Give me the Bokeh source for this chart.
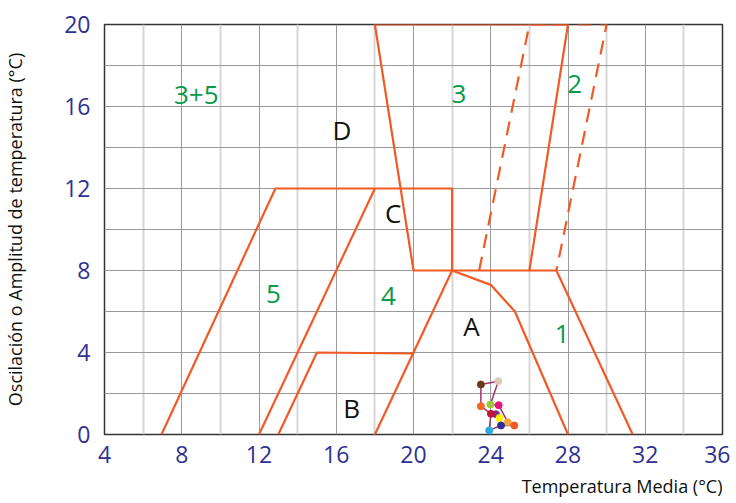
from bokeh.plotting import figure
from bokeh.models import Range1d, FixedTicker, Title, ColumnDataSource
from bokeh.core.properties import value
from bokeh.embed import file_html
from bokeh.resources import INLINE

FONT = "Open Sans"
ORANGE = "#F15A24"
GREEN = "#0A9A48"
BLUE = "#2E3192"

# ---- data -----------------------------------------------------------
x_ticks = [4, 8, 12, 16, 20, 24, 28, 32, 36]
y_ticks = [0, 4, 8, 12, 16, 20]
x_minor = [6, 10, 14, 18, 22, 26, 30, 34]
y_minor = [2, 6, 10, 14, 18]

# solid boundary lines (temperature media, oscilacion)
zone5_x = [6.95, 12.85, 22.0, 22.0]
zone5_y = [0, 12, 12, 8]
zone4_x = [12.0, 18.0]
zone4_y = [0, 12]
zoneB_x = [13.0, 15.0, 20.0]
zoneB_y = [0, 4, 3.95]
zoneB2_x = [18.0, 22.0]
zoneB2_y = [0, 8]
zoneD_x = [26.0, 28.0, 18.0, 20.0, 27.4, 31.35]
zoneD_y = [8, 20, 20, 8, 8, 0]
zoneA_x = [22.0, 24.0, 25.25, 28.0]
zoneA_y = [8, 7.3, 6.0, 0]
# dashed boundary
dash_x = [23.4, 26.0, 30.0, 27.4]
dash_y = [8, 20, 20, 8]

# zone labels
green_labels = ["3+5", "3", "2", "5", "4", "1"]
green_lx = [8.75, 22.35, 28.35, 12.75, 18.7, 27.7]
green_ly = [16.55, 16.6, 17.1, 6.85, 6.75, 4.9]
black_labels = ["D", "C", "A", "B"]
black_lx = [16.3, 18.95, 23.0, 16.8]
black_ly = [14.85, 10.8, 5.3, 1.3]

# monthly station points (path)
path_x = [23.49, 24.39, 23.98, 24.41, 24.88, 25.22, 24.53, 23.92, 24.01, 23.49, 23.49]
path_y = [2.44, 2.60, 1.46, 1.43, 0.60, 0.44, 0.44, 0.20, 1.01, 1.38, 2.44]
pts_x = [23.49, 24.39, 23.98, 24.41, 24.27, 24.45, 24.88, 25.22, 24.53, 23.92, 24.01, 23.49]
pts_y = [2.44, 2.60, 1.46, 1.43, 0.99, 0.80, 0.60, 0.44, 0.44, 0.20, 1.01, 1.38]
pts_c = ["#6B3A1E", "#D9CBB5", "#9CC93B", "#E6157E", "#7A2F8E", "#FFF200",
         "#F7A541", "#F15A24", "#2E3192", "#29ABE2", "#C1163A", "#F26522"]

# ---- figure ---------------------------------------------------------
p = figure(frame_width=618, frame_height=410,
           x_range=Range1d(4, 36), y_range=Range1d(0, 20),
           output_backend="svg", toolbar_location=None,
           min_border_left=94, min_border_right=8,
           min_border_top=24, min_border_bottom=61)
p.background_fill_color = "white"
p.outline_line_color = "#333333"
p.outline_line_width = 1.5

p.xaxis.ticker = FixedTicker(ticks=x_ticks, minor_ticks=x_minor)
p.yaxis.ticker = FixedTicker(ticks=y_ticks, minor_ticks=y_minor)
p.xgrid.ticker = FixedTicker(ticks=x_ticks, minor_ticks=x_minor)
p.ygrid.ticker = FixedTicker(ticks=y_ticks, minor_ticks=y_minor)

p.xgrid.grid_line_color = "#9a9a9a"
p.xgrid.grid_line_width = 1
p.xgrid.minor_grid_line_color = "#d6d6d6"
p.xgrid.minor_grid_line_width = 2
p.ygrid.grid_line_color = "#9a9a9a"
p.ygrid.grid_line_width = 1
p.ygrid.minor_grid_line_color = "#9a9a9a"
p.ygrid.minor_grid_line_width = 1

for ax in (p.xaxis, p.yaxis):
    ax.axis_line_color = None
    ax.major_tick_line_color = None
    ax.minor_tick_line_color = None
    ax.major_label_text_font = FONT
    ax.major_label_text_font_size = "23px"
    ax.major_label_text_color = BLUE

p.xaxis.major_label_standoff = 5
p.yaxis.major_label_standoff = 8

p.yaxis.axis_label = "Oscilación o Amplitud de temperatura (°C)"
p.yaxis.axis_label_text_font = FONT
p.yaxis.axis_label_text_font_size = "18px"
p.yaxis.axis_label_text_font_style = "normal"
p.yaxis.axis_label_text_color = "#111111"
p.yaxis.axis_label_standoff = 34

p.add_layout(Title(text="Temperatura Media (°C)", align="right",
                   text_font=FONT, text_font_size="18px",
                   text_font_style="normal", text_color="#111111",
                   standoff=13), "below")

lw = 2.2
for xs, ys in [(zone5_x, zone5_y), (zone4_x, zone4_y), (zoneB_x, zoneB_y),
               (zoneB2_x, zoneB2_y), (zoneD_x, zoneD_y), (zoneA_x, zoneA_y)]:
    p.line(xs, ys, line_color=ORANGE, line_width=lw)
p.line(dash_x, dash_y, line_color=ORANGE, line_width=lw, line_dash="14 9")

p.text(green_lx, green_ly, text=green_labels, text_color=GREEN,
       text_font=value(FONT), text_font_size="26px",
       text_align="center", text_baseline="middle")
p.text(black_lx, black_ly, text=black_labels, text_color="#111111",
       text_font=value(FONT), text_font_size="26px",
       text_align="center", text_baseline="middle")

p.line(path_x, path_y, line_color="#A3336F", line_width=1.5)
src = ColumnDataSource(dict(x=pts_x, y=pts_y, c=pts_c))
p.scatter("x", "y", source=src, size=7, fill_color="c", line_color="c")

open("out.html", "w").write(file_html(p, INLINE))
